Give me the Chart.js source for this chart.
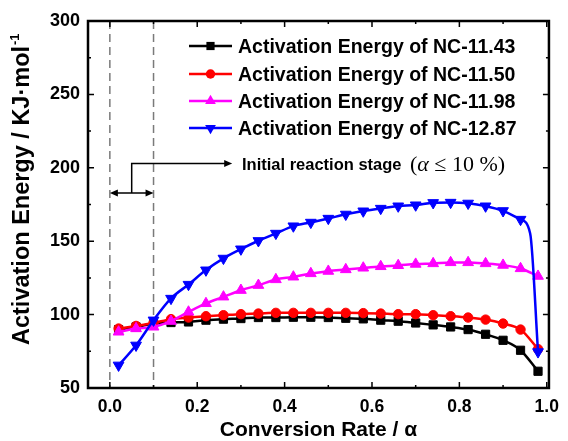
<!DOCTYPE html>
<html>
<head>
<meta charset="utf-8">
<script src="https://cdn.jsdelivr.net/npm/chart.js@4.4.0/dist/chart.umd.min.js"></script>
<style>
  body { margin: 0; background: #fff; }
</style>
</head>
<body>
<canvas id="chart" width="568" height="441"></canvas>
<script>
// conversion rate (alpha) at each measured point
const alpha = [0.02, 0.06, 0.10, 0.14, 0.18, 0.22, 0.26, 0.30, 0.34, 0.38, 0.42, 0.46, 0.50,
               0.54, 0.58, 0.62, 0.66, 0.70, 0.74, 0.78, 0.82, 0.86, 0.90, 0.94, 0.98];
// NC-12.87 has one more vertex near the end (no marker drawn there)
const alphaBlue = [0.02, 0.06, 0.10, 0.14, 0.18, 0.22, 0.26, 0.30, 0.34, 0.38, 0.42, 0.46, 0.50,
                   0.54, 0.58, 0.62, 0.66, 0.70, 0.74, 0.78, 0.82, 0.86, 0.90, 0.94, 0.962, 0.98];

const nc1143 = [89.8, 91.6, 93.9, 94.6, 95.0, 96.2, 96.9, 97.3, 98.0, 98.0, 98.2, 98.2, 98.0,
                97.5, 97.1, 96.2, 95.5, 94.3, 93.0, 91.6, 89.8, 86.6, 82.5, 75.7, 61.4];
const nc1150 = [90.5, 92.3, 94.3, 96.9, 98.0, 98.9, 99.6, 100.3, 100.7, 101.2, 101.2, 101.2, 101.2,
                101.2, 101.0, 100.7, 100.3, 100.3, 99.6, 98.9, 98.0, 96.6, 93.9, 89.8, 76.5];
const nc1198 = [88.2, 90.5, 91.6, 95.5, 101.8, 107.6, 112.1, 116.6, 120.0, 123.9, 125.7, 128.0, 129.6,
                130.7, 131.8, 132.8, 133.5, 134.4, 134.8, 135.5, 135.5, 134.8, 133.7, 131.4, 126.2];
const nc1287 = [65.5, 79.1, 96.2, 111.0, 120.5, 130.3, 138.3, 144.6, 150.3, 155.3, 160.3, 162.8, 165.5,
                168.3, 170.5, 172.3, 173.9, 174.6, 176.2, 176.4, 175.8, 173.9, 170.7, 164.8, 155.3, 74.6];

const seriesNames = ["Activation Energy of NC-11.43", "Activation Energy of NC-11.50",
                     "Activation Energy of NC-11.98", "Activation Energy of NC-12.87"];
const xTicks = [0.0, 0.2, 0.4, 0.6, 0.8, 1.0];
const xMinor = [0.1, 0.3, 0.5, 0.7, 0.9];
const yMinor = [75, 125, 175, 225, 275];

// initial reaction stage markers
const guideX = [0.0, 0.1];
const arrowY = 182.8;   // double arrow level
const elbowY = 203;     // pointer level
const elbowX = 0.05;
const pointerEnd = 0.28;

const SANS = '"Liberation Sans", Arial, sans-serif';
const SERIF = '"Liberation Serif", "Times New Roman", serif';

const toPoints = (xs, ys) => ys.map((v, i) => ({ x: xs[i], y: v }));

const styles = [
  { color: "#000000", shape: "rect", rot: 0, r: 5.8 },
  { color: "#ff0000", shape: "circle", rot: 0, r: 4.7 },
  { color: "#ff00ff", shape: "triangle", rot: 0, r: 6.2 },
  { color: "#0000ff", shape: "triangle", rot: 180, r: 6.2 }
];

const makeSet = (i, pts, radii) => ({
  label: seriesNames[i],
  data: pts,
  borderColor: styles[i].color,
  backgroundColor: styles[i].color,
  borderWidth: 2.5,
  pointStyle: styles[i].shape,
  pointRotation: styles[i].rot,
  pointRadius: radii || styles[i].r,
  pointBorderWidth: 1,
  cubicInterpolationMode: "monotone",
  order: 4 - i
});

const blueRadii = alphaBlue.map(v => v === 0.962 ? 0 : styles[3].r);

// small hand drawn marker for the legend
const marker = (ctx, st, x, y) => {
  ctx.fillStyle = st.color;
  ctx.beginPath();
  if (st.shape === "rect") {
    const s = st.r * Math.SQRT1_2;
    ctx.rect(x - s, y - s, 2 * s, 2 * s);
  } else if (st.shape === "circle") {
    ctx.arc(x, y, st.r, 0, Math.PI * 2);
  } else {
    const d = st.rot ? -1 : 1;
    ctx.moveTo(x, y - d * st.r);
    ctx.lineTo(x + st.r * 0.866, y + d * st.r * 0.5);
    ctx.lineTo(x - st.r * 0.866, y + d * st.r * 0.5);
    ctx.closePath();
  }
  ctx.fill();
};

const arrowHead = (ctx, x, y, dir) => {
  ctx.beginPath();
  ctx.moveTo(x, y);
  ctx.lineTo(x - dir * 8, y - 3.5);
  ctx.lineTo(x - dir * 8, y + 3.5);
  ctx.closePath();
  ctx.fill();
};

const extras = {
  id: "extras",
  beforeDatasetsDraw(chart) {
    const { ctx, chartArea: a, scales: { x } } = chart;
    ctx.save();
    ctx.strokeStyle = "#7a7a7a";
    ctx.lineWidth = 1.5;
    ctx.setLineDash([8, 5]);
    guideX.forEach(v => {
      const px = x.getPixelForValue(v);
      ctx.beginPath();
      ctx.moveTo(px, a.top);
      ctx.lineTo(px, a.bottom);
      ctx.stroke();
    });
    ctx.restore();
  },
  afterDraw(chart) {
    const { ctx, chartArea: a, scales: { x, y } } = chart;
    ctx.save();
    // frame and inward ticks on all four sides
    ctx.strokeStyle = "#000";
    ctx.lineWidth = 2.5;
    ctx.strokeRect(a.left, a.top, a.right - a.left, a.bottom - a.top);
    ctx.lineWidth = 1.5;
    const tick = (px, len, horiz) => {
      ctx.beginPath();
      if (horiz) {
        ctx.moveTo(px, a.bottom); ctx.lineTo(px, a.bottom - len);
        ctx.moveTo(px, a.top); ctx.lineTo(px, a.top + len);
      } else {
        ctx.moveTo(a.left, px); ctx.lineTo(a.left + len, px);
        ctx.moveTo(a.right, px); ctx.lineTo(a.right - len, px);
      }
      ctx.stroke();
    };
    xTicks.forEach(v => tick(x.getPixelForValue(v), 6, true));
    xMinor.forEach(v => tick(x.getPixelForValue(v), 3, true));
    y.ticks.forEach(t => tick(y.getPixelForValue(t.value), 6, false));
    yMinor.forEach(v => tick(y.getPixelForValue(v), 3, false));

    // arrows for the initial stage
    ctx.fillStyle = "#000";
    ctx.lineWidth = 1.5;
    const x0 = x.getPixelForValue(guideX[0]), x1 = x.getPixelForValue(guideX[1]);
    const ya = y.getPixelForValue(arrowY), ye = y.getPixelForValue(elbowY);
    const xe = x.getPixelForValue(elbowX), xp = x.getPixelForValue(pointerEnd);
    ctx.beginPath();
    ctx.moveTo(x0 + 4, ya); ctx.lineTo(x1 - 4, ya);
    ctx.moveTo(xe, ya); ctx.lineTo(xe, ye); ctx.lineTo(xp - 4, ye);
    ctx.stroke();
    arrowHead(ctx, x0, ya, -1);
    arrowHead(ctx, x1, ya, 1);
    arrowHead(ctx, xp, ye, 1);

    ctx.textBaseline = "alphabetic";
    ctx.textAlign = "left";
    ctx.font = "bold 16.5px " + SANS;
    ctx.fillText("Initial reaction stage", 242, 170);
    let tx = 410;
    ctx.font = "22px " + SERIF;
    ctx.fillText("(", tx, 171); tx += ctx.measureText("(").width;
    ctx.font = "italic 22px " + SERIF;
    ctx.fillText("\u03b1", tx, 171); tx += ctx.measureText("\u03b1").width;
    ctx.font = "22px " + SERIF;
    ctx.fillText(" \u2264 10 %)", tx, 171);

    // legend
    const rows = [46, 74, 101, 128];
    rows.forEach((ry, i) => {
      ctx.strokeStyle = styles[i].color;
      ctx.lineWidth = 2.5;
      ctx.beginPath();
      ctx.moveTo(189, ry); ctx.lineTo(232, ry);
      ctx.stroke();
      marker(ctx, styles[i], 210.5, ry);
      ctx.fillStyle = "#000";
      ctx.font = "bold 19.5px " + SANS;
      ctx.fillText(seriesNames[i], 238, ry + 7);
    });

    // y axis title with superscript
    ctx.translate(28.5, 345);
    ctx.rotate(-Math.PI / 2);
    ctx.font = "bold 23.5px " + SANS;
    const main = "Activation Energy / KJ\u00b7mol";
    ctx.fillText(main, 0, 0);
    const w = ctx.measureText(main).width;
    ctx.font = "bold 13px " + SANS;
    ctx.fillText("-1", w + 1, -10);
    ctx.restore();
  }
};

new Chart(document.getElementById("chart"), {
  type: "line",
  data: {
    datasets: [
      makeSet(0, toPoints(alpha, nc1143)),
      makeSet(1, toPoints(alpha, nc1150)),
      makeSet(2, toPoints(alpha, nc1198)),
      makeSet(3, toPoints(alphaBlue, nc1287), blueRadii)
    ]
  },
  options: {
    responsive: false,
    animation: false,
    layout: { padding: { top: 21, right: 16, left: 0, bottom: 0 } },
    plugins: { legend: { display: false }, tooltip: { enabled: false } },
    scales: {
      x: {
        type: "linear",
        min: -0.05,
        max: 1.005,
        afterBuildTicks: s => { s.ticks = xTicks.map(v => ({ value: v })); },
        afterFit: s => { s.height = 53; },
        grid: { display: false, drawTicks: false },
        border: { display: false },
        ticks: {
          padding: 9,
          color: "#000",
          font: { family: SANS, size: 17.5, weight: "bold" },
          maxRotation: 0,
          callback: v => v.toFixed(1)
        },
        title: {
          display: true,
          text: "Conversion Rate / \u03b1",
          color: "#000",
          font: { family: SANS, size: 21, weight: "bold", lineHeight: 1 },
          padding: { top: 0, bottom: 0 }
        }
      },
      y: {
        min: 50,
        max: 300,
        ticks: {
          stepSize: 50,
          padding: 8,
          color: "#000",
          font: { family: SANS, size: 18, weight: "bold" }
        },
        afterFit: s => { s.width = 88; },
        grid: { display: false, drawTicks: false },
        border: { display: false }
      }
    }
  },
  plugins: [extras]
});
</script>
</body>
</html>
